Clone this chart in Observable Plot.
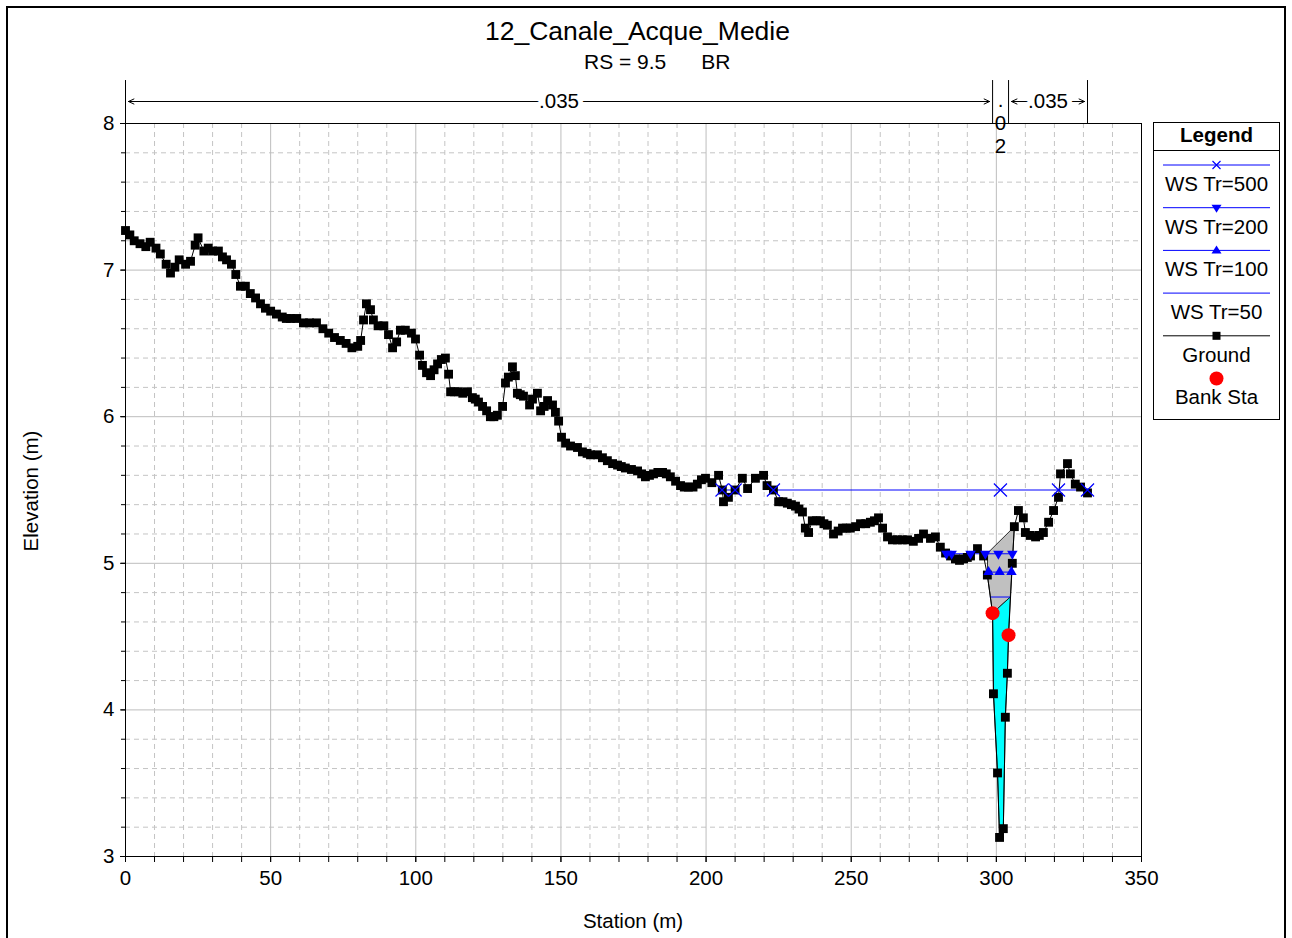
<!DOCTYPE html>
<html><head><meta charset="utf-8">
<script src="https://cdn.jsdelivr.net/npm/d3@7"></script>
<script src="https://cdn.jsdelivr.net/npm/@observablehq/plot@0.6"></script>
<style>
body{margin:0;background:#fff;font-family:"Liberation Sans",Arial,sans-serif;}
#wrap{position:relative;width:1292px;height:938px;overflow:hidden;background:#fff;}
#wrap svg{position:absolute;left:0;top:0;}
.abs{position:absolute;white-space:pre;color:#000;}
#border{position:absolute;left:6px;top:6px;width:1280px;height:1000px;border:2px solid #000;box-sizing:border-box;}
</style></head>
<body>
<div id="wrap">
  <div id="border"></div>
  <div id="chart"></div>
  <div class="abs" id="title" style="left:0;width:1275px;text-align:center;top:16px;font-size:26.5px;">12_Canale_Acque_Medie</div>
  <div class="abs" id="subtitle" style="left:584px;top:50px;font-size:21px;">RS = 9.5      BR</div>
  <div class="abs" id="ylabel" style="left:31px;top:491px;font-size:20.5px;transform:translate(-50%,-50%) rotate(-90deg);">Elevation (m)</div>
  <div class="abs" id="xlabel" style="left:633px;top:921px;font-size:20.5px;transform:translate(-50%,-50%);">Station (m)</div>
  <div id="legend"></div>
</div>
<script>
// ---- data ----
const groundStation = [0,1.5,3,5,7,8.5,10.5,12,14,15.5,17,18.5,20.7,22.4,24,25,27,28.5,30,32,33.4,34.8,36.5,38,39.6,41.3,43,44.8,46.5,48.2,50,52,54,55.4,56.8,59,61.3,63.4,65.8,68,70,72,74,76,78,80,81,82,83,84.4,85.4,87,89,90.6,92,93.4,94.7,96.4,98.5,99.9,101.3,102.3,103.7,105.1,106.3,107.5,108.8,110.2,111.3,112,113.3,114.7,116.2,117.8,119.5,120.5,121.6,123,124.4,125.7,126.9,128.1,129.9,130.9,131.9,133.3,134.3,135,136,137.1,139.2,140.2,141.9,143,144.2,145.4,147.1,148.1,149.2,150.2,151.6,153.3,155.7,157.4,159,160.2,162.6,164.3,166,167.8,169.5,170.8,172.2,174.3,176.4,177.8,179.1,180.5,181.9,183.4,185,186.3,187.7,189.5,191.2,192.5,193.9,195.5,197,198.4,199.8,202,204.3,205.6,206,207.7,210,212.5,214.3,217,219.8,221,223.2,225,226.5,228,229.4,230.8,232,233.2,234.2,235.3,236.6,238,239.4,240.6,241.8,243.9,245.5,247,248.3,249.7,251.5,253.2,255,256.6,258,259.4,260.8,262.5,264.2,265.9,267.6,269.4,271.4,273.2,274.9,277.3,279,280.7,282.5,284.2,285.9,287.3,288.7,290,291.1,293.5,295.6,296.9,298.7,299,300.4,301.1,302.4,303.1,303.8,304.2,305.5,306.2,307.6,309.3,310,311.7,313.5,314.8,316.2,318,319.7,321.4,322.1,324.5,325.5,327.2,329,331.4];
const groundElev = [7.27,7.24,7.20,7.18,7.16,7.19,7.15,7.11,7.04,6.98,7.02,7.07,7.04,7.06,7.17,7.22,7.13,7.15,7.13,7.13,7.09,7.07,7.04,6.97,6.89,6.89,6.84,6.81,6.77,6.74,6.72,6.70,6.68,6.67,6.67,6.67,6.64,6.64,6.64,6.60,6.57,6.54,6.52,6.50,6.47,6.48,6.52,6.66,6.77,6.73,6.66,6.62,6.62,6.56,6.47,6.51,6.59,6.59,6.57,6.53,6.42,6.35,6.30,6.28,6.32,6.36,6.39,6.40,6.29,6.17,6.17,6.17,6.16,6.17,6.13,6.12,6.10,6.07,6.04,6.00,6.00,6.01,6.07,6.23,6.27,6.34,6.28,6.16,6.15,6.14,6.08,6.12,6.16,6.04,6.07,6.11,6.08,6.03,5.97,5.86,5.82,5.80,5.79,5.76,5.75,5.74,5.74,5.72,5.70,5.68,5.67,5.66,5.65,5.64,5.63,5.61,5.59,5.60,5.61,5.62,5.62,5.61,5.59,5.56,5.53,5.52,5.52,5.52,5.54,5.57,5.58,5.55,5.60,5.50,5.42,5.45,5.50,5.58,5.51,5.58,5.60,5.53,5.50,5.42,5.42,5.41,5.40,5.39,5.37,5.35,5.24,5.21,5.29,5.29,5.29,5.27,5.26,5.20,5.22,5.24,5.24,5.24,5.25,5.27,5.27,5.28,5.29,5.31,5.24,5.18,5.16,5.16,5.16,5.16,5.15,5.17,5.20,5.17,5.18,5.11,5.07,5.05,5.03,5.02,5.03,5.04,5.05,5.10,5.05,4.92,4.66,4.11,3.57,3.13,3.19,3.95,4.25,4.51,5.00,5.25,5.36,5.31,5.21,5.19,5.18,5.19,5.21,5.28,5.36,5.45,5.61,5.68,5.61,5.54,5.52,5.48];
const bankStation = [298.7, 304.2];
const bankElev = [4.66, 4.51];

const ws500Elev = 5.50;
const ws500Runs = [[205.5, 210], [223.2, 331.4]];
const ws500Marks = [205.5, 210, 223.2, 301.4, 321.4, 331.4];
const ws200Elev = 5.065;
const ws200Runs = [[282.3, 305.7]];
const ws200Marks = [282.8, 284.6, 291.1, 296.2, 300.7, 305.5];
const ws100Elev = 4.94;
const ws100Runs = [[296.8, 305.3]];
const ws100Marks = [297.3, 301.1, 305.2];
const ws50Elev = 4.77;
const ws50Runs = [[297.9, 304.8]];

// bridge / flow area outlines (station, elevation)
const grayStation = [297.0, 306.2, 305.5, 304.8, 298.7, 296.9, 297.0];
const grayElev    = [5.07, 5.25, 5.00, 4.77, 4.66, 4.92, 5.07];
const cyanStation = [298.7, 304.8, 304.2, 303.8, 303.1, 302.4, 301.1, 300.4, 299.0, 298.7];
const cyanElev    = [4.66, 4.77, 4.51, 4.25, 3.95, 3.19, 3.13, 3.57, 4.11, 4.66];

// Manning's n regions
const nBreaks = [0, 298.7, 304.2, 331.4];
const nValues = [".035", ".02", ".035"];

const xMajorTicks = d3.range(0, 351, 50);
const xMinorTicks = d3.range(0, 351, 10);
const yMajorTicks = [3, 4, 5, 6, 7, 8];
const yMinorTicks = d3.range(15, 41).map(d => d / 5);

// ---- build ----
const ground = groundStation.map((s, i) => ({s, e: groundElev[i]}));
const banks = bankStation.map((s, i) => ({s, e: bankElev[i]}));
const runs = (r, e, name) => r.flatMap((seg, k) => seg.map(s => ({s, e, z: name + k})));
const marks = (m, e) => m.map(s => ({s, e}));
const gray = grayStation.map((s, i) => ({s, e: grayElev[i]}));
const cyan = cyanStation.map((s, i) => ({s, e: cyanElev[i]}));

const nTop = 8.293, nLine = 8.15;
const nSegs = nValues.map((v, i) => ({a: nBreaks[i], b: nBreaks[i + 1], m: (nBreaks[i] + nBreaks[i + 1]) / 2, v}));
const nArrows = nSegs.filter(d => d.v.length > 3).flatMap(d => [{x1: d.m, x2: d.a}, {x1: d.m, x2: d.b}]);

const blue = "#0000ff";
const font = "Liberation Sans, Arial, sans-serif";

const chart = Plot.plot({
  width: 1292, height: 938,
  marginLeft: 125, marginRight: 151, marginTop: 123, marginBottom: 82,
  x: {domain: [0, 350]},
  y: {domain: [3, 8]},
  style: {fontFamily: font, color: "#000", background: "transparent", overflow: "visible"},
  marks: [
    Plot.gridX(xMinorTicks.filter(d => d % 50), {stroke: "#c4c4c4", strokeOpacity: 1, strokeDasharray: "5,4"}),
    Plot.gridY(yMinorTicks.filter(d => Math.abs(d - Math.round(d)) > 1e-6), {stroke: "#c4c4c4", strokeOpacity: 1, strokeDasharray: "5,4"}),
    Plot.gridX(xMajorTicks, {stroke: "#bdbdbd", strokeOpacity: 1}),
    Plot.gridY(yMajorTicks, {stroke: "#bdbdbd", strokeOpacity: 1}),
    Plot.axisX(xMinorTicks, {tickSize: 6, tickFormat: () => "", label: null}),
    Plot.axisX(xMajorTicks, {tickSize: 6, tickPadding: 8, fontSize: 20.5, label: null}),
    Plot.axisY(yMinorTicks, {tickSize: 4, tickFormat: () => "", label: null}),
    Plot.axisY(yMajorTicks, {tickSize: 5, tickPadding: 6, fontSize: 20.5, tickFormat: d => String(d), label: null}),
    // manning's n
    Plot.ruleX(nBreaks, {y1: 8, y2: nTop, stroke: "#000"}),
    Plot.arrow(nArrows, {x1: "x1", x2: "x2", y1: nLine, y2: nLine, stroke: "#000", strokeWidth: 1, headLength: 9, headAngle: 50, insetEnd: 3}),
    Plot.text(nSegs.filter(d => d.v.length > 3), {x: "m", y: nLine, text: "v", fontSize: 20.5, fill: "#000", stroke: "#fff", strokeWidth: 10, paintOrder: "stroke"}),
    Plot.text(nSegs.filter(d => d.v.length <= 3), {x: "m", y: nLine, text: d => d.v.split("").join("\n"), fontSize: 20.5, lineHeight: 1.12, lineAnchor: "top", dy: -11, fill: "#000"}),
    // flow areas
    Plot.line(gray, {x: "s", y: "e", fill: "#c0c0c0", stroke: "#000", strokeWidth: 0.8}),
    Plot.line(cyan, {x: "s", y: "e", fill: "#00ffff", stroke: "#000", strokeWidth: 0.8}),
    // water surfaces
    Plot.line(runs(ws500Runs, ws500Elev, "a"), {x: "s", y: "e", z: "z", stroke: blue, strokeWidth: 1}),
    Plot.line(runs(ws200Runs, ws200Elev, "b"), {x: "s", y: "e", z: "z", stroke: blue, strokeWidth: 1}),
    Plot.line(runs(ws100Runs, ws100Elev, "c"), {x: "s", y: "e", z: "z", stroke: blue, strokeWidth: 1}),
    Plot.line(runs(ws50Runs, ws50Elev, "d"), {x: "s", y: "e", z: "z", stroke: blue, strokeWidth: 1}),
    // ground
    Plot.line(ground, {x: "s", y: "e", stroke: "#000", strokeWidth: 1}),
    Plot.dot(ground, {x: "s", y: "e", symbol: "square", r: 5, fill: "#000", stroke: "none"}),
    Plot.dot(marks(ws500Marks, ws500Elev), {x: "s", y: "e", symbol: "times", r: 6, stroke: blue, strokeWidth: 1.2}),
    Plot.dot(marks(ws200Marks, ws200Elev), {x: "s", y: "e", symbol: "triangle2", rotate: 180, r: 5, fill: blue, stroke: "none"}),
    Plot.dot(marks(ws100Marks, ws100Elev), {x: "s", y: "e", symbol: "triangle2", r: 5, fill: blue, stroke: "none"}),
    Plot.dot(banks, {x: "s", y: "e", r: 7, fill: "#ff0000", stroke: "none"}),
    Plot.frame({stroke: "#000", strokeWidth: 1})
  ]
});
document.getElementById("chart").appendChild(chart);

// ---- legend ----
const legendItems = [
  {label: "WS Tr=500", stroke: blue, sym: "times"},
  {label: "WS Tr=200", stroke: blue, sym: "down"},
  {label: "WS Tr=100", stroke: blue, sym: "up"},
  {label: "WS Tr=50", stroke: blue, sym: null},
  {label: "Ground", stroke: "#000", sym: "square"},
  {label: "Bank Sta", stroke: null, sym: "dot"}
];
const lw = 127, lh = 298;
const L = d3.create("svg").attr("width", lw).attr("height", lh)
  .style("position", "absolute").style("left", "1153px").style("top", "122px")
  .style("font-family", font);
L.append("rect").attr("x", 0.5).attr("y", 0.5).attr("width", lw - 1).attr("height", lh - 1).attr("fill", "#fff").attr("stroke", "#000");
L.append("text").attr("x", lw / 2).attr("y", 13).attr("dy", "0.35em").attr("text-anchor", "middle").attr("font-size", 20.5).attr("font-weight", "bold").text("Legend");
L.append("line").attr("x1", 0).attr("x2", lw).attr("y1", 28.5).attr("y2", 28.5).attr("stroke", "#000");
legendItems.forEach((it, i) => {
  const yl = 43 + i * 42.7, yt = 62 + i * 42.6;
  const cx = lw / 2;
  if (it.stroke) L.append("line").attr("x1", 10).attr("x2", 117).attr("y1", yl).attr("y2", yl).attr("stroke", it.stroke).attr("stroke-width", 1);
  if (it.sym === "times") L.append("path").attr("d", `M${cx-4},${yl-4}L${cx+4},${yl+4}M${cx-4},${yl+4}L${cx+4},${yl-4}`).attr("stroke", blue).attr("stroke-width", 1.2);
  if (it.sym === "down") L.append("path").attr("d", `M${cx-5},${yl-3}L${cx+5},${yl-3}L${cx},${yl+5}Z`).attr("fill", blue);
  if (it.sym === "up") L.append("path").attr("d", `M${cx-5},${yl+3}L${cx+5},${yl+3}L${cx},${yl-5}Z`).attr("fill", blue);
  if (it.sym === "square") L.append("rect").attr("x", cx - 4).attr("y", yl - 4).attr("width", 8).attr("height", 8).attr("fill", "#000");
  if (it.sym === "dot") L.append("circle").attr("cx", cx).attr("cy", yl).attr("r", 7).attr("fill", "#ff0000");
  L.append("text").attr("x", cx).attr("y", yt).attr("dy", "0.35em").attr("text-anchor", "middle").attr("font-size", 20.5).text(it.label);
});
document.getElementById("legend").appendChild(L.node());
</script>
</body></html>
